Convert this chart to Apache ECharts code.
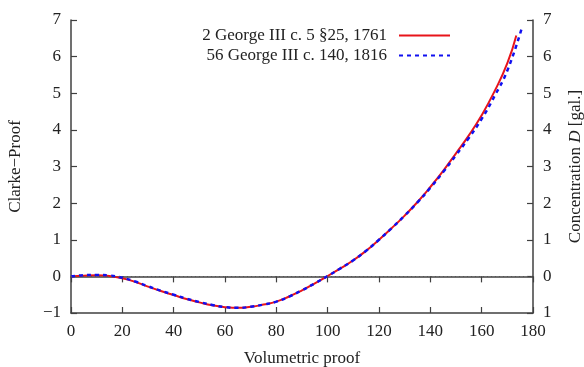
<!DOCTYPE html>
<html>
<head>
<meta charset="utf-8">
<script src="https://cdn.jsdelivr.net/npm/echarts@6/dist/echarts.min.js"></script>
<style>
  html, body { margin: 0; padding: 0; background: #fff; }
  #main { width: 584px; height: 367px; }
</style>
</head>
<body>
<div id="main"></div>
<script>
// volumetric proof (x) and Clarke - Proof (y)
var proof1761 = [0, 5, 10, 15, 20, 25, 30, 35, 40, 45, 50, 55, 60, 65, 70, 75, 80, 85, 90, 95, 100,
                 105, 110, 115, 120, 125, 130, 135, 140, 145, 150, 155, 160, 165, 170, 173.5];
var diff1761 = [0, 0.02, 0.03, 0.01, -0.05, -0.15, -0.28, -0.40, -0.51, -0.62, -0.71, -0.79, -0.84, -0.86, -0.83, -0.77, -0.69, -0.55, -0.38, -0.19, 0.01,
                0.22, 0.44, 0.70, 1.0, 1.32, 1.66, 2.03, 2.44, 2.88, 3.36, 3.85, 4.40, 5.05, 5.82, 6.58];
var proof1816 = [0, 5, 10, 15, 20, 25, 30, 35, 40, 45, 50, 55, 60, 65, 70, 75, 80, 85, 90, 95, 100,
                 105, 110, 115, 120, 125, 130, 135, 140, 145, 150, 155, 160, 165, 170, 175.5];
var diff1816 = [0, 0.03, 0.04, 0.02, -0.04, -0.14, -0.27, -0.39, -0.50, -0.61, -0.70, -0.78, -0.84, -0.86, -0.83, -0.77, -0.69, -0.55, -0.38, -0.19, 0.01,
                0.22, 0.44, 0.70, 1.0, 1.32, 1.66, 2.02, 2.42, 2.85, 3.31, 3.78, 4.30, 4.92, 5.62, 6.75];
var seriesNames = ['2 George III c. 5 §25, 1761', '56 George III c. 140, 1816'];

function pairs(xs, ys) {
    var out = [];
    for (var i = 0; i < xs.length; i++) {
        out.push([xs[i], ys[i]]);
    }
    return out;
}

var font = 'Liberation Serif';
var fs = 17;
var frame = '#404040';

var chart = echarts.init(document.getElementById('main'));

var option = {
    animation: false,
    textStyle: { fontFamily: font },
    grid: { left: 71, right: 51, top: 20, bottom: 54, containLabel: false, outerBoundsMode: 'none' },
    legend: {
        orient: 'vertical',
        right: 133,
        top: 27,
        padding: 0,
        align: 'right',
        itemWidth: 51,
        itemHeight: 16,
        itemGap: 3,
        itemStyle: { opacity: 0 },
        textStyle: { fontFamily: font, fontSize: fs, color: '#222', padding: [0, 7, 0, 0] },
        data: seriesNames
    },
    xAxis: [{
        type: 'value',
        min: 0, max: 180, interval: 20,
        name: 'Volumetric proof',
        nameLocation: 'middle',
        nameGap: 37,
        nameTextStyle: { fontFamily: font, fontSize: fs, color: '#222' },
        axisLine: { onZero: false, lineStyle: { color: frame, width: 1.5 } },
        axisTick: { inside: true, length: 6, lineStyle: { color: frame, width: 1.2 } },
        axisLabel: { fontFamily: font, fontSize: fs, color: '#222', margin: 10 },
        splitLine: { show: false }
    }, {
        type: 'value',
        position: 'top',
        min: 0, max: 180, interval: 20,
        axisLine: { lineStyle: { color: frame, width: 1.5 } },
        axisTick: { inside: true, length: 6, lineStyle: { color: frame, width: 1.2 } },
        axisLabel: { show: false },
        splitLine: { show: false }
    }],
    yAxis: [{
        type: 'value',
        min: -1, max: 7, interval: 1,
        name: 'Clarke−Proof',
        nameLocation: 'middle',
        nameRotate: 90,
        nameGap: 47,
        nameTextStyle: { fontFamily: font, fontSize: fs, color: '#222' },
        axisLine: { show: true, onZero: false, lineStyle: { color: frame, width: 1.5 } },
        axisTick: { show: true, inside: true, length: 6, lineStyle: { color: frame, width: 1.2 } },
        axisLabel: { fontFamily: font, fontSize: fs, color: '#222', margin: 10,
            formatter: function (v) { return v < 0 ? '−' + Math.abs(v) : '' + v; } },
        splitLine: { show: false }
    }, {
        type: 'value',
        position: 'right',
        min: -1, max: 7, interval: 1,
        name: '{a|Concentration }{b|D}{a| [gal.]}',
        nameLocation: 'middle',
        nameRotate: 90,
        nameGap: 34,
        nameTextStyle: {
            rich: {
                a: { fontFamily: font, fontSize: fs, color: '#222' },
                b: { fontFamily: font, fontSize: fs, color: '#222', fontStyle: 'italic' }
            }
        },
        axisLine: { show: true, onZero: false, lineStyle: { color: frame, width: 1.5 } },
        axisTick: { show: true, inside: true, length: 6, lineStyle: { color: frame, width: 1.2 } },
        axisLabel: { fontFamily: font, fontSize: fs, color: '#222', margin: 10,
            formatter: function (v) { return '' + Math.abs(v); } },
        splitLine: { show: false }
    }],
    series: [{
        name: seriesNames[0],
        type: 'line',
        data: pairs(proof1761, diff1761),
        smooth: true,
        showSymbol: false,
        symbol: 'none',
        lineStyle: { color: '#e8141a', width: 2 },
        itemStyle: { color: '#e8141a' },
        z: 3,
        markLine: {
            silent: true,
            symbol: 'none',
            label: { show: false },
            lineStyle: { color: '#555', type: [1, 3], width: 1 },
            data: [{ yAxis: 0 }]
        }
    }, {
        name: seriesNames[1],
        type: 'line',
        data: pairs(proof1816, diff1816),
        smooth: true,
        showSymbol: false,
        symbol: 'none',
        lineStyle: { color: '#1010f0', width: 2.5, type: [4, 4] },
        itemStyle: { color: '#1010f0' },
        z: 4
    }]
};

chart.setOption(option);
</script>
</body>
</html>
